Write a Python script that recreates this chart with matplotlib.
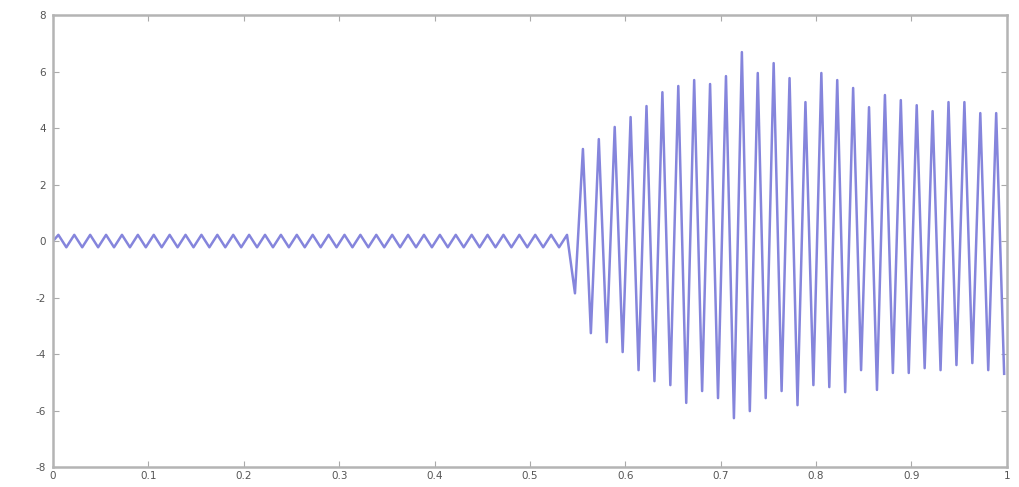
import numpy as np
import matplotlib.pyplot as plt

plt.rcParams['axes.unicode_minus'] = False

# 信号的采样参数 (60 Hz)
freq = 60.0
t_first_peak = 0.0056
start_value = 0.0

# 故障前的小幅振荡: 每个周期的正峰与负峰
small_hi = [0.22, 0.22, 0.22, 0.22, 0.22, 0.22, 0.22, 0.22, 0.22, 0.22, 0.22,
            0.22, 0.22, 0.22, 0.22, 0.22, 0.22, 0.22, 0.22, 0.22, 0.22, 0.22,
            0.22, 0.22, 0.22, 0.22, 0.22, 0.22, 0.22, 0.22, 0.22, 0.22, 0.22]
small_lo = [-0.22, -0.22, -0.22, -0.22, -0.22, -0.22, -0.22, -0.22,
            -0.22, -0.22, -0.22, -0.22, -0.22, -0.22, -0.22, -0.22,
            -0.22, -0.22, -0.22, -0.22, -0.22, -0.22, -0.22, -0.22,
            -0.22, -0.22, -0.22, -0.22, -0.22, -0.22, -0.22, -0.22]

# 故障后的大幅振荡
big_hi = [3.26, 3.61, 4.04, 4.39, 4.78, 5.27, 5.49, 5.70, 5.56, 5.84, 6.69,
          5.95, 6.30, 5.77, 4.92, 5.95, 5.70, 5.42, 4.74, 5.17, 4.99, 4.81,
          4.60, 4.92, 4.92, 4.53, 4.53]
big_lo = [-1.85, -3.26, -3.58, -3.93, -4.57, -4.96, -5.10, -5.73, -5.31,
          -5.56, -6.27, -6.02, -5.56, -5.31, -5.81, -5.10, -5.17, -5.35,
          -4.57, -5.27, -4.67, -4.67, -4.50, -4.57, -4.39, -4.32, -4.57, -4.70]

x_ticks = [0, 0.1, 0.2, 0.3, 0.4, 0.5, 0.6, 0.7, 0.8, 0.9, 1]
x_labels = ['0', '0.1', '0.2', '0.3', '0.4', '0.5', '0.6', '0.7', '0.8', '0.9', '1']
y_ticks = [-8, -6, -4, -2, 0, 2, 4, 6, 8]

# 正负峰交替排列
peaks = np.array(small_hi + big_hi)
troughs = np.array(small_lo + big_lo)
n = len(peaks)
t_peak = t_first_peak + np.arange(n) / freq
t_trough = t_peak + 0.5 / freq

t = np.empty(2 * n + 1)
y = np.empty(2 * n + 1)
t[0], y[0] = 0.0, start_value
t[1::2], y[1::2] = t_peak, peaks
t[2::2], y[2::2] = t_trough, troughs

fig = plt.figure(figsize=(10.2, 4.87), dpi=100)
ax = fig.add_axes([0.052, 0.041, 0.935, 0.928])
ax.plot(t, y, color='#8585dc', linewidth=1.8)

ax.set_xlim(0, 1)
ax.set_ylim(-8, 8)
ax.set_xticks(x_ticks)
ax.set_xticklabels(x_labels)
ax.set_yticks(y_ticks)
ax.tick_params(direction='in', top=True, right=True, length=4, width=0.8,
               colors='#aaaaaa', labelcolor='#555555', labelsize=7.5)
ax.tick_params(axis='x', pad=3)
ax.tick_params(axis='y', pad=5)
for s in ax.spines.values():
    s.set_color('#b4b4b4')
    s.set_linewidth(1.8)

fig.savefig('out.png', dpi=100)
